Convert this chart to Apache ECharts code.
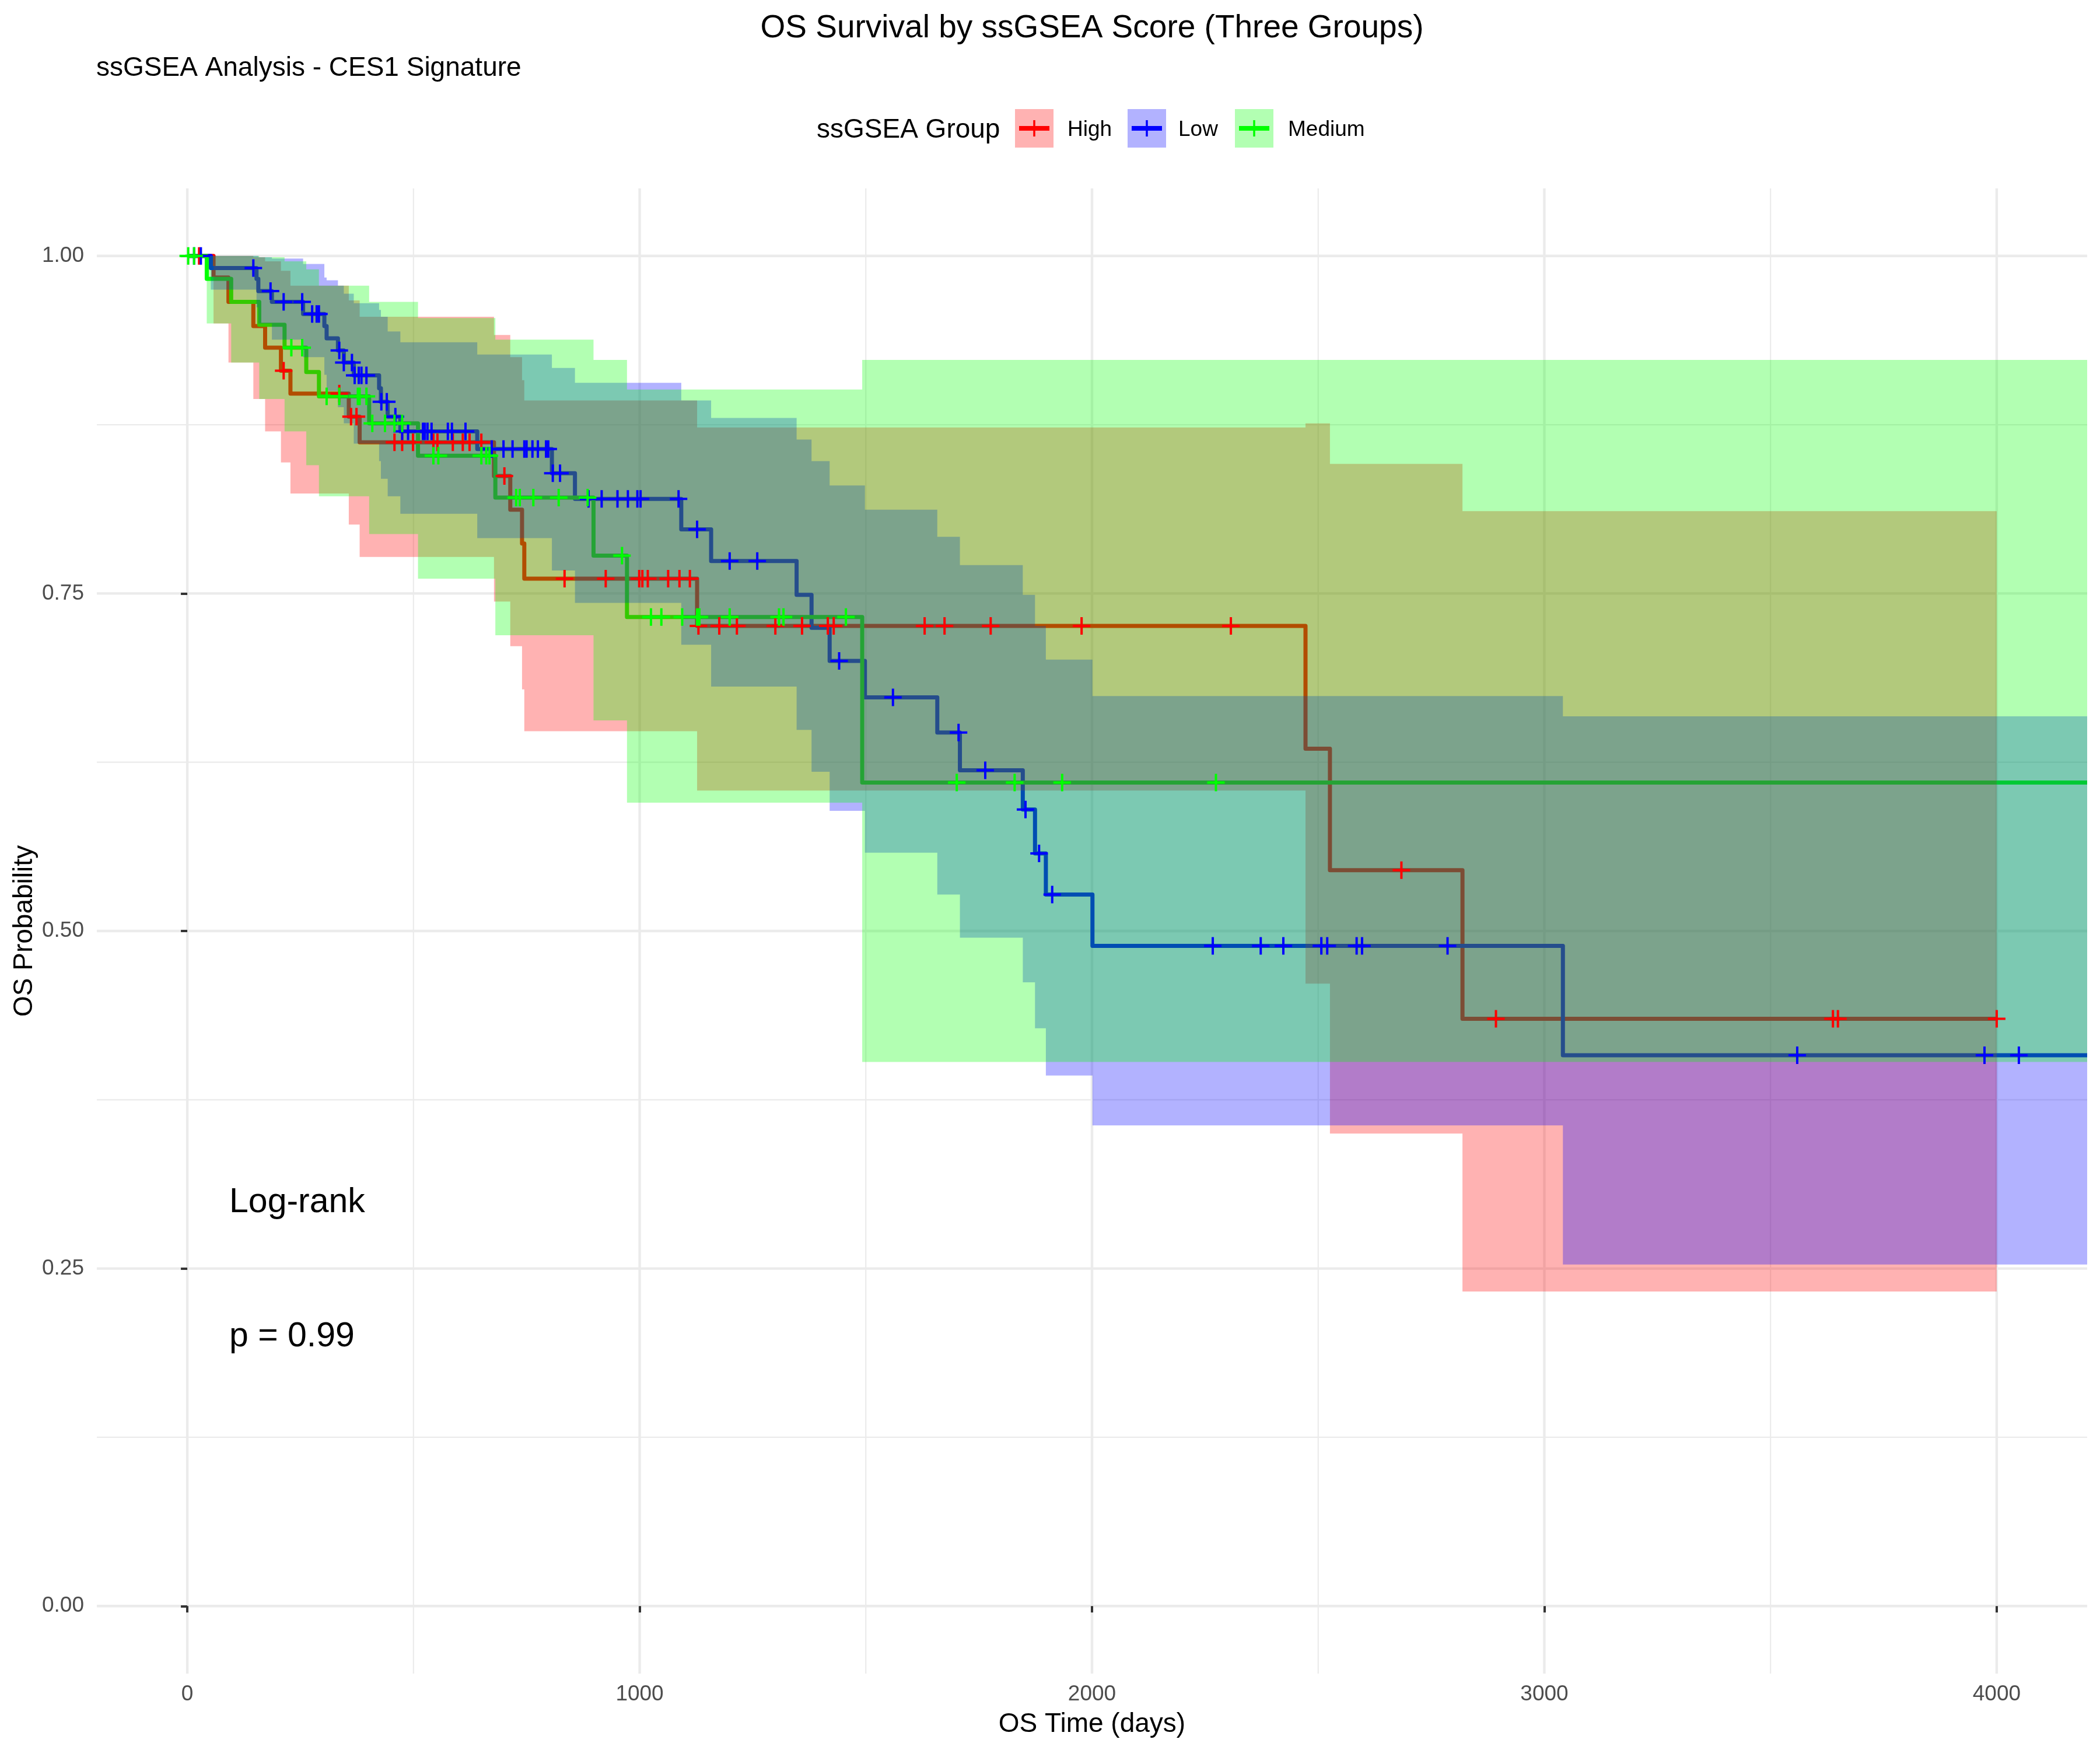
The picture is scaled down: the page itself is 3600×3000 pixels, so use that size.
<!DOCTYPE html>
<html><head><meta charset="utf-8">
<script src="https://cdn.jsdelivr.net/npm/echarts@6/dist/echarts.min.js"></script>
<style>html,body{margin:0;padding:0;background:#fff}#c{width:3600px;height:3000px}</style>
</head><body><div id="c"></div>
<script>
// ---------------- DATA ----------------
const groups = ['High', 'Low', 'Medium'];
const lineColors = ['#FF0000', '#0000FF', '#00FF00'];
const bandColors = ['rgba(255,0,0,0.3)', 'rgba(0,0,255,0.3)', 'rgba(0,255,0,0.3)'];

// High group: event times (last = end of follow-up), survival, 95% CI
const highTime  = [0, 58, 91, 146, 172, 207, 228, 357, 381, 678, 714, 740, 745, 1127, 2472, 2526, 2819, 4000];
const highSurv  = [1, 0.984, 0.966, 0.948, 0.932, 0.915, 0.898, 0.881, 0.862, 0.837, 0.812, 0.787, 0.761, 0.726, 0.635, 0.545, 0.435, 0.435];
const highLower = [1, 0.950, 0.921, 0.894, 0.870, 0.847, 0.824, 0.801, 0.777, 0.744, 0.711, 0.679, 0.648, 0.604, 0.461, 0.350, 0.233, 0.233];
const highUpper = [1, 1.000, 1.000, 0.999, 0.996, 0.989, 0.978, 0.967, 0.955, 0.9415, 0.925, 0.908, 0.893, 0.873, 0.876, 0.846, 0.811, 0.811];
const highCensor = [26, 213, 336, 362, 374, 458, 475, 499, 544, 553, 587, 609, 624, 650, 701, 834, 925, 999, 1006, 1018, 1063, 1088, 1111, 1130, 1176, 1215, 1300, 1359, 1416, 1429, 1630, 1674, 1776, 1977, 2307, 2684, 2893, 3638, 3649, 4000];

// Low group
const lowTime  = [0, 52, 153, 157, 187, 256, 303, 308, 333, 346, 368, 424, 428, 443, 471, 641, 806, 857, 1092, 1158, 1347, 1380, 1420, 1498, 1658, 1708, 1847, 1874, 1898, 2001, 3041, 4200];
const lowSurv  = [1, 0.991, 0.983, 0.974, 0.966, 0.957, 0.948, 0.939, 0.930, 0.921, 0.9115, 0.902, 0.892, 0.881, 0.870, 0.857, 0.839, 0.820, 0.7975, 0.774, 0.749, 0.7246, 0.700, 0.673, 0.647, 0.619, 0.590, 0.5575, 0.527, 0.489, 0.408, 0.408];
const lowLower = [1, 0.975, 0.962, 0.950, 0.938, 0.925, 0.912, 0.900, 0.888, 0.876, 0.861, 0.848, 0.835, 0.822, 0.809, 0.791, 0.767, 0.743, 0.712, 0.681, 0.649, 0.618, 0.589, 0.558, 0.527, 0.495, 0.462, 0.428, 0.393, 0.356, 0.253, 0.253];
const lowUpper = [1, 1.000, 1.000, 0.999, 0.998, 0.994, 0.984, 0.982, 0.978, 0.972, 0.965, 0.960, 0.955, 0.944, 0.936, 0.927, 0.917, 0.906, 0.893, 0.880, 0.864, 0.848, 0.830, 0.812, 0.792, 0.771, 0.749, 0.726, 0.701, 0.674, 0.659, 0.659];
const lowCensor = [15, 30, 146, 184, 213, 254, 276, 286, 291, 336, 346, 364, 370, 379, 385, 396, 429, 441, 460, 475, 488, 521, 525, 531, 540, 576, 585, 615, 673, 699, 719, 745, 750, 763, 775, 793, 798, 808, 824, 887, 916, 951, 974, 995, 1002, 1086, 1127, 1199, 1260, 1441, 1560, 1705, 1764, 1853, 1883, 1912, 2267, 2373, 2423, 2507, 2520, 2585, 2597, 2786, 3559, 3973, 4049];

// Medium group
const medTime  = [0, 43, 97, 159, 215, 263, 291, 402, 510, 681, 898, 972, 1492, 4200];
const medSurv  = [1, 0.983, 0.966, 0.949, 0.932, 0.914, 0.896, 0.876, 0.852, 0.821, 0.778, 0.7326, 0.610, 0.610];
const medLower = [1, 0.950, 0.921, 0.894, 0.870, 0.845, 0.822, 0.794, 0.761, 0.719, 0.656, 0.595, 0.403, 0.403];
const medUpper = [1, 1.000, 1.000, 0.999, 0.996, 0.990, 0.978, 0.966, 0.954, 0.938, 0.923, 0.901, 0.923, 0.923];
const medCensor = [2, 15, 230, 254, 308, 336, 377, 381, 396, 409, 437, 458, 475, 544, 555, 650, 661, 668, 727, 735, 765, 821, 885, 961, 1025, 1048, 1094, 1127, 1132, 1199, 1308, 1318, 1456, 1701, 1829, 1934, 2274];

// Axis ticks
const xMajorTicks = [0, 1000, 2000, 3000, 4000];
const xMinorTicks = [500, 1500, 2500, 3500];
const yMajorTicks = [0, 0.25, 0.5, 0.75, 1];
const yMinorTicks = [0.125, 0.375, 0.625, 0.875];

// Texts
const titleText = 'OS Survival by ssGSEA Score (Three Groups)';
const subtitleText = 'ssGSEA Analysis - CES1 Signature';
const xTitle = 'OS Time (days)';
const yTitle = 'OS Probability';
const legendTitle = 'ssGSEA Group';
const pvalLines = ['Log-rank', 'p = 0.99'];

// ---------------- BUILD ----------------
const FONT = '"Liberation Sans", Arial, Helvetica, sans-serif';
const curveSets = [
  {T: highTime, S: highSurv, L: highLower, U: highUpper, C: highCensor},
  {T: lowTime,  S: lowSurv,  L: lowLower,  U: lowUpper,  C: lowCensor},
  {T: medTime,  S: medSurv,  L: medLower,  U: medUpper,  C: medCensor}
];

function survAt(T, S, t) {
  let v = S[0];
  for (let i = 0; i < T.length; i++) { if (T[i] <= t) v = S[i]; }
  return v;
}

function bandRenderer(T, L, U, color) {
  return function (params, api) {
    const pts = [];
    for (let i = 0; i < T.length - 1; i++) {
      pts.push(api.coord([T[i], U[i]]));
      pts.push(api.coord([T[i + 1], U[i]]));
    }
    for (let i = T.length - 2; i >= 0; i--) {
      pts.push(api.coord([T[i + 1], L[i]]));
      pts.push(api.coord([T[i], L[i]]));
    }
    return { type: 'polygon', silent: true, shape: { points: pts }, style: { fill: color, stroke: null } };
  };
}

function gridRenderer(params, api) {
  const cs = params.coordSys;
  const children = [];
  const addV = (v, w) => {
    const p = api.coord([v, 0]);
    children.push({ type: 'line', silent: true, shape: { x1: p[0], y1: cs.y, x2: p[0], y2: cs.y + cs.height }, style: { stroke: '#EBEBEB', lineWidth: w } });
  };
  const addH = (v, w) => {
    const p = api.coord([0, v]);
    children.push({ type: 'line', silent: true, shape: { x1: cs.x, y1: p[1], x2: cs.x + cs.width, y2: p[1] }, style: { stroke: '#EBEBEB', lineWidth: w } });
  };
  xMinorTicks.forEach(v => addV(v, 2.2));
  yMinorTicks.forEach(v => addH(v, 2.2));
  xMajorTicks.forEach(v => addV(v, 4.4));
  yMajorTicks.forEach(v => addH(v, 4.4));
  return { type: 'group', children: children };
}

const crossPath = 'path://M-2,-15 L2,-15 L2,-2 L15,-2 L15,2 L2,2 L2,15 L-2,15 L-2,2 L-15,2 L-15,-2 L-2,-2 Z';

const series = [];
series.push({ type: 'custom', name: 'grid', z: 0, silent: true, data: [[0, 0]], renderItem: gridRenderer });
curveSets.forEach((c, i) => {
  series.push({
    type: 'line', name: groups[i], z: 2, step: 'end', symbol: 'none', showSymbol: false, silent: true,
    lineStyle: { width: 7, color: lineColors[i], join: 'round', cap: 'butt' },
    itemStyle: { color: lineColors[i] },
    data: c.T.map((t, k) => [t, c.S[k]])
  });
});
curveSets.forEach((c, i) => {
  series.push({ type: 'custom', name: groups[i] + ' CI', z: 3, silent: true, data: [[0, 1]], renderItem: bandRenderer(c.T, c.L, c.U, bandColors[i]) });
});
curveSets.forEach((c, i) => {
  series.push({
    type: 'scatter', name: groups[i] + ' censor', z: 4, silent: true,
    symbol: crossPath, symbolSize: [30, 30],
    itemStyle: { color: lineColors[i], opacity: 1 },
    data: c.C.map(t => [t, survAt(c.T, c.S, t)])
  });
});

// legend drawn with graphic elements
const legendKeyX = [1740, 1933, 2117];
const legendTextX = [1830, 2020, 2208];
const graphics = [];
graphics.push({ type: 'text', x: 1400, y: 223, style: { text: legendTitle, font: '46px ' + FONT, fill: '#000', align: 'left', verticalAlign: 'middle' } });
groups.forEach((g, i) => {
  const kx = legendKeyX[i];
  graphics.push({ type: 'rect', shape: { x: kx, y: 187, width: 66, height: 66 }, style: { fill: bandColors[i] } });
  graphics.push({ type: 'line', shape: { x1: kx + 7, y1: 220, x2: kx + 59, y2: 220 }, style: { stroke: lineColors[i], lineWidth: 8 } });
  graphics.push({ type: 'line', shape: { x1: kx + 33, y1: 206, x2: kx + 33, y2: 234 }, style: { stroke: lineColors[i], lineWidth: 3.5 } });
  graphics.push({ type: 'text', x: legendTextX[i], y: 223, style: { text: g, font: '37px ' + FONT, fill: '#000', align: 'left', verticalAlign: 'middle' } });
});
graphics.push({ type: 'text', x: 1872, y: 2956, style: { text: xTitle, font: '46px ' + FONT, fill: '#000', align: 'center', verticalAlign: 'middle' } });
graphics.push({ type: 'text', x: 42, y: 1596, rotation: Math.PI / 2, style: { text: yTitle, font: '46px ' + FONT, fill: '#000', align: 'center', verticalAlign: 'middle' } });
graphics.push({ type: 'text', x: 393, y: 2062, style: { text: pvalLines[0], font: '59px ' + FONT, fill: '#000', align: 'left', verticalAlign: 'middle' } });
graphics.push({ type: 'text', x: 393, y: 2292, style: { text: pvalLines[1], font: '59px ' + FONT, fill: '#000', align: 'left', verticalAlign: 'middle' } });

const option = {
  animation: false,
  backgroundColor: '#FFFFFF',
  title: [
    { text: titleText, left: 1867, top: 16, textAlign: 'center', textStyle: { fontFamily: FONT, fontSize: 55, fontWeight: 'normal', color: '#000' } },
    { text: subtitleText, left: 160, top: 89, textStyle: { fontFamily: FONT, fontSize: 46, fontWeight: 'normal', color: '#000' } }
  ],
  grid: { left: 166, top: 323, width: 3412, height: 2546, containLabel: false },
  xAxis: {
    type: 'value', min: -200, max: 4200,
    axisLine: { show: false },
    splitLine: { show: false },
    axisTick: { show: true, customValues: xMajorTicks, length: 11, lineStyle: { color: '#333333', width: 4 } },
    axisLabel: { show: true, customValues: xMajorTicks, margin: 17, fontSize: 37, fontFamily: FONT, color: '#4D4D4D', formatter: v => String(v) }
  },
  yAxis: {
    type: 'value', min: -0.05, max: 1.05,
    axisLine: { show: false },
    splitLine: { show: false },
    axisTick: { show: true, customValues: yMajorTicks, length: 11, lineStyle: { color: '#333333', width: 4 } },
    axisLabel: { show: true, customValues: yMajorTicks, margin: 22, fontSize: 37, fontFamily: FONT, color: '#4D4D4D', formatter: v => Number(v).toFixed(2) }
  },
  graphic: { elements: graphics },
  series: series
};

const chart = echarts.init(document.getElementById('c'), null, { renderer: 'canvas' });
chart.setOption(option);
</script>
</body></html>
